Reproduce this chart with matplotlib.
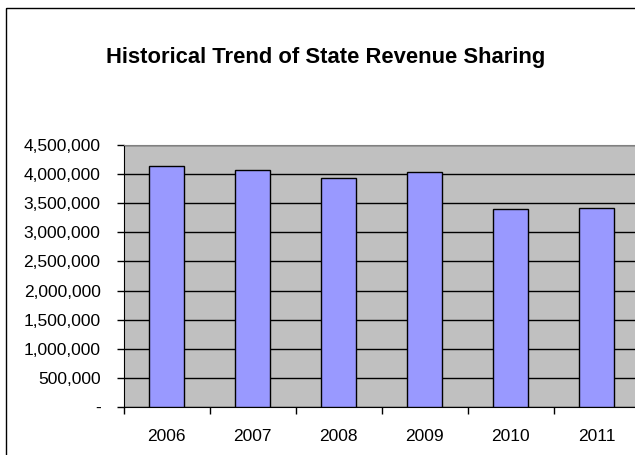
import numpy as np
import matplotlib
matplotlib.use('Agg')
import matplotlib.pyplot as plt
from matplotlib.patches import Rectangle
from matplotlib.ticker import FuncFormatter

years = ['2006', '2007', '2008', '2009', '2010', '2011']
revenue = [4145000, 4065000, 3940000, 4035000, 3395000, 3415000]

plt.rcParams['font.family'] = ['Liberation Sans', 'DejaVu Sans']


def money(v, pos):
    if v == 0:
        return '-'
    return f'{int(v):,}'


def main():
    fig = plt.figure(figsize=(6.35, 4.55), dpi=100)
    W, H = 635, 455
    # axes placed in pixels, right side runs past the image edge like the reference
    ax = fig.add_axes([123.5 / W, 48 / H, 516 / W, 262 / H])
    ax.set_facecolor('#C0C0C0')

    x = np.arange(len(years))
    ax.bar(x, revenue, width=0.4, color='#9999FF', edgecolor='black', linewidth=1, zorder=3)

    ax.set_ylim(0, 4500000)
    ax.set_yticks(np.arange(0, 4500001, 500000))
    ax.yaxis.set_major_formatter(FuncFormatter(money))
    ax.yaxis.grid(True, color='black', linewidth=1, zorder=1)
    ax.set_axisbelow(True)

    ax.set_xlim(-0.5, len(years) - 0.5)
    ax.set_xticks(np.arange(-0.5, len(years), 1.0))
    ax.set_xticklabels([])
    ax.set_xticks(x, minor=True)
    ax.set_xticklabels(years, minor=True)

    ax.tick_params(axis='y', which='major', length=5, width=1, pad=11.5, labelsize=12.5)
    ax.tick_params(axis='x', which='major', length=5, width=1, direction='out')
    ax.tick_params(axis='x', which='minor', length=0, pad=16, labelsize=12.5)

    ax.spines['top'].set_color('#808080')
    ax.spines['right'].set_color('#808080')
    for s in ('left', 'bottom'):
        ax.spines[s].set_color('black')

    fig.text(326 / W, 1 - 58 / H, 'Historical Trend of State Revenue Sharing',
             ha='center', va='center', fontsize=15.8, fontweight='bold')

    border = Rectangle((5.5 / W, 1 - 7.5 / H), 2, -2, transform=fig.transFigure,
                       fill=False, edgecolor='black', linewidth=1)
    fig.patches.append(border)

    fig.savefig('out.png', dpi=100, facecolor='white')


if __name__ == '__main__':
    main()
